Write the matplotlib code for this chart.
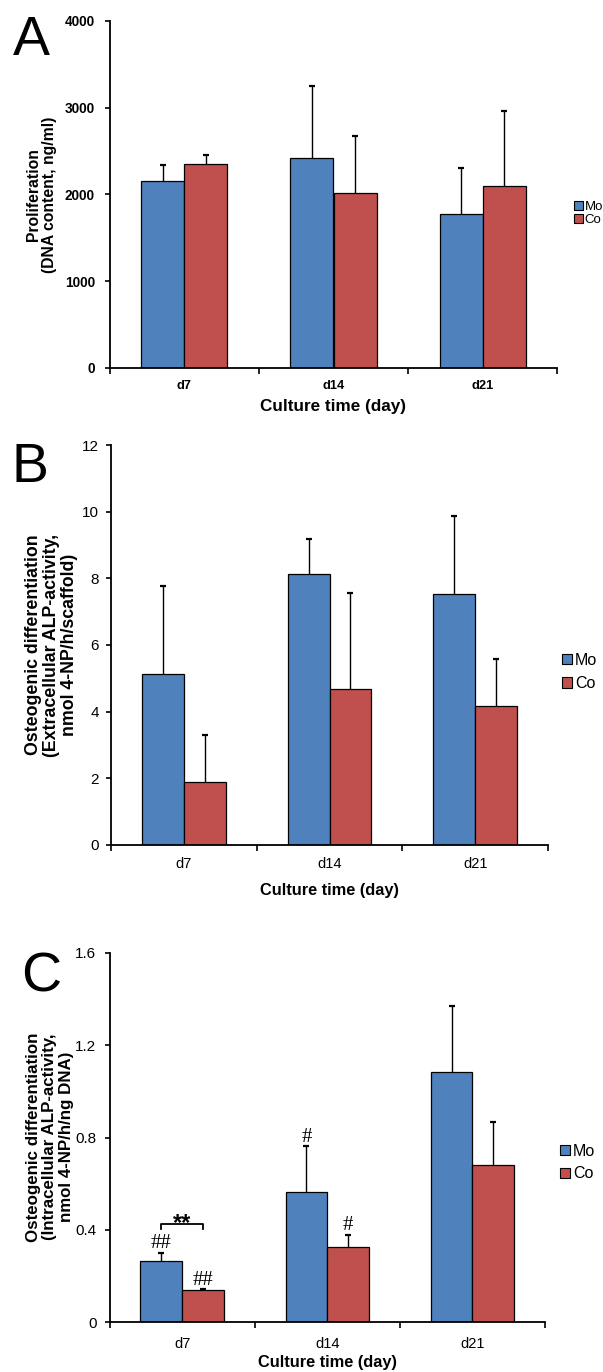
import numpy as np
import matplotlib
matplotlib.use('Agg')
import matplotlib.pyplot as plt
from matplotlib.patches import Patch

plt.rcParams['font.family'] = ['Liberation Sans', 'DejaVu Sans']

W, H = 603, 1372
days = ['d7', 'd14', 'd21']
groups = ['Mo', 'Co']
blue = '#4F81BD'
red = '#C0504D'

# panel A - proliferation (DNA content, ng/ml)
a_mo = [2156, 2421, 1771]
a_mo_sd = [184, 830, 534]
a_co = [2348, 2021, 2098]
a_co_sd = [111, 653, 865]

# panel B - extracellular ALP activity
b_mo = [5.14, 8.13, 7.53]
b_mo_sd = [2.62, 1.04, 2.34]
b_co = [1.90, 4.68, 4.16]
b_co_sd = [1.40, 2.89, 1.42]

# panel C - intracellular ALP activity
c_mo = [0.266, 0.564, 1.085]
c_mo_sd = [0.033, 0.198, 0.287]
c_co = [0.137, 0.325, 0.679]
c_co_sd = [0.005, 0.054, 0.190]
c_mo_marks = ['##', '#', '']
c_co_marks = ['##', '#', '']


def fx(x):
    return x / W


def fy(y):
    return 1 - y / H


def axes_px(fig, left, right, top, bottom):
    return fig.add_axes([fx(left), fy(bottom), (right - left) / W, (bottom - top) / H])


def upper_err(ax, xs, vals, sds):
    tops = np.array(vals) + np.array(sds)
    ax.vlines(xs, vals, tops, color='black', lw=1.0, zorder=1)
    ax.plot(xs, tops, ls='none', marker='_', ms=4, mew=1.6, color='black', zorder=1)


def draw_bars(ax, mo, mo_sd, co, co_sd, ymax, yticks, ylabels, bold_ticks, tick_fs, ypad, xpad):
    x = np.arange(len(days))
    w = 0.288
    ax.bar(x - w / 2, mo, w, color=blue, edgecolor='black', linewidth=0.9, zorder=2)
    ax.bar(x + w / 2, co, w, color=red, edgecolor='black', linewidth=0.9, zorder=2)
    upper_err(ax, x - w / 2, mo, mo_sd)
    upper_err(ax, x + w / 2, co, co_sd)
    ax.set_xlim(-0.5, len(days) - 0.5)
    ax.set_ylim(0, ymax)
    ax.set_yticks(yticks)
    ax.set_yticklabels(ylabels, fontsize=tick_fs, fontweight='bold' if bold_ticks else 'normal')
    ax.set_xticks(np.arange(len(days) + 1) - 0.5)
    ax.set_xticklabels([])
    ax.set_xticks(x, minor=True)
    ax.set_xticklabels(days, minor=True, fontsize=tick_fs - 0.5,
                       fontweight='bold' if bold_ticks else 'normal')
    ax.tick_params(axis='x', which='minor', length=0, pad=xpad)
    ax.tick_params(axis='x', which='major', direction='out', length=4, width=1.2)
    ax.tick_params(axis='y', direction='out', length=3.5, width=1.2, pad=ypad)
    for s in ['top', 'right']:
        ax.spines[s].set_visible(False)
    for s in ['left', 'bottom']:
        ax.spines[s].set_linewidth(1.3)
    return x, w


def add_legend(fig, left, cy, fs, spacing):
    handles = [Patch(facecolor=blue, edgecolor='black', linewidth=0.8),
               Patch(facecolor=red, edgecolor='black', linewidth=0.8)]
    fig.legend(handles, groups, loc='center left', bbox_to_anchor=(fx(left), fy(cy)),
               frameon=False, fontsize=fs, handlelength=0.65, handleheight=0.65,
               handletextpad=0.15, labelspacing=spacing, borderpad=0, borderaxespad=0)


fig = plt.figure(figsize=(W / 100, H / 100), dpi=100)

# ---- A ----
axA = axes_px(fig, 109.5, 557.5, 21, 368)
draw_bars(axA, a_mo, a_mo_sd, a_co, a_co_sd, 4000, [0, 1000, 2000, 3000, 4000],
          ['0', '1000', '2000', '3000', '4000'], True, 9.8, 7, 9)
fig.text(fx(13), fy(55), 'A', fontsize=40, va='baseline', ha='left')
fig.text(fx(41.5), fy(194.5), 'Proliferation\n(DNA content, ng/ml)', rotation=90,
         ha='center', va='center', multialignment='center', fontsize=11.3,
         fontweight='bold', linespacing=1.1)
fig.text(fx(333.5), fy(407), 'Culture time (day)', ha='center', va='center',
         fontsize=12.3, fontweight='bold')
add_legend(fig, 574, 213.5, 9.5, 0.1)

# ---- B ----
axB = axes_px(fig, 111, 548, 445, 845)
draw_bars(axB, b_mo, b_mo_sd, b_co, b_co_sd, 12, [0, 2, 4, 6, 8, 10, 12],
          ['0', '2', '4', '6', '8', '10', '12'], False, 11, 5, 9)
fig.text(fx(11.5), fy(482), 'B', fontsize=40, va='baseline', ha='left')
fig.text(fx(51.5), fy(645), 'Osteogenic differentiation\n(Extracellular ALP-activity,\nnmol 4-NP/h/scaffold)',
         rotation=90, ha='center', va='center', multialignment='center', fontsize=12.8,
         fontweight='bold', linespacing=1.05)
fig.text(fx(329.5), fy(890), 'Culture time (day)', ha='center', va='center',
         fontsize=11.8, fontweight='bold')
add_legend(fig, 562, 672, 11.5, 0.55)

# ---- C ----
axC = axes_px(fig, 109.6, 545, 953, 1322)
x, w = draw_bars(axC, c_mo, c_mo_sd, c_co, c_co_sd, 1.6, [0, 0.4, 0.8, 1.2, 1.6],
                 ['0', '0.4', '0.8', '1.2', '1.6'], False, 11, 6, 10.5)
fig.text(fx(21), fy(991), 'C', fontsize=40, va='baseline', ha='left')
fig.text(fx(50), fy(1137), 'Osteogenic differentiation\n(Intracellular ALP-activity,\nnmol 4-NP/h/ng DNA)',
         rotation=90, ha='center', va='center', multialignment='center', fontsize=12.2,
         fontweight='bold', linespacing=1.15)
fig.text(fx(327), fy(1363), 'Culture time (day)', ha='center', va='center',
         fontsize=11.8, fontweight='bold')
add_legend(fig, 560, 1162.5, 11.5, 0.5)

mo_top = np.array(c_mo) + np.array(c_mo_sd)
co_top = np.array(c_co) + np.array(c_co_sd)
for i in range(len(days)):
    if c_mo_marks[i]:
        axC.text(x[i] - w / 2, mo_top[i] + 0.04, c_mo_marks[i], ha='center', va='center',
                 fontsize=15, family='Liberation Serif')
    if c_co_marks[i]:
        axC.text(x[i] + w / 2, co_top[i] + 0.04, c_co_marks[i], ha='center', va='center',
                 fontsize=15, family='Liberation Serif')

# significance bracket between Mo and Co at d7
by = mo_top[0] + 0.126
axC.plot([x[0] - w / 2, x[0] - w / 2, x[0] + w / 2, x[0] + w / 2],
         [by - 0.022, by, by, by - 0.022], color='black', lw=1.3, clip_on=False)
axC.text(x[0], by + 0.003, '**', ha='center', va='center', fontsize=17, fontweight='bold')

fig.savefig('out.png', dpi=100)
